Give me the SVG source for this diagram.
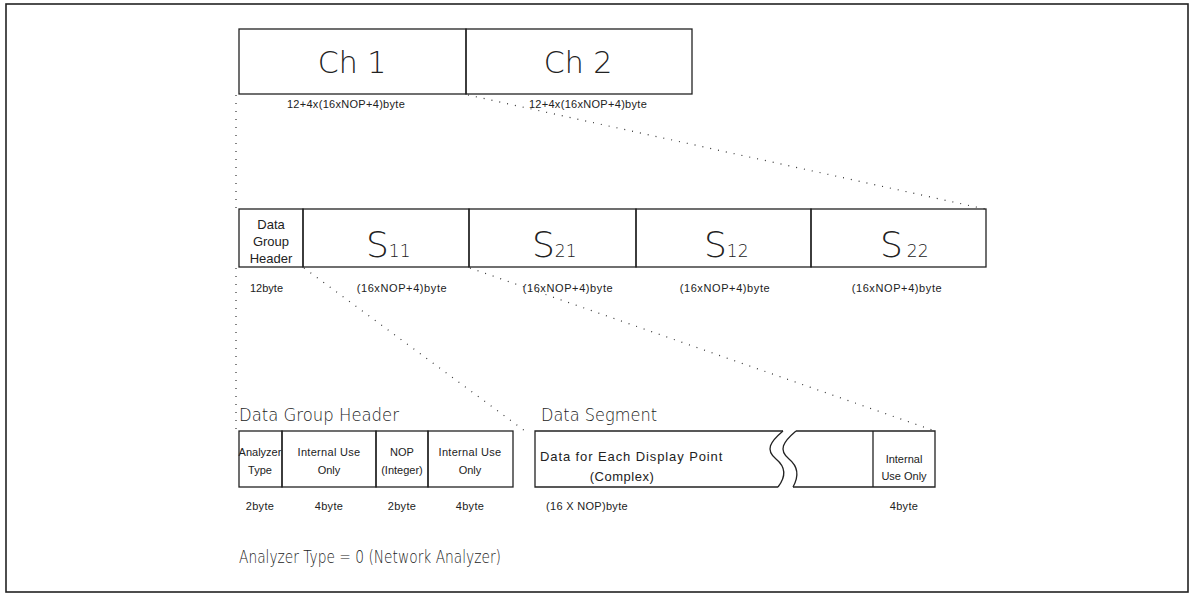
<svg xmlns="http://www.w3.org/2000/svg" width="1193" height="598" viewBox="0 0 1193 598">
<style>
.box{fill:none;stroke:#222;stroke-width:1.3}
.dot{fill:none;stroke:#333;stroke-width:1.2;stroke-dasharray:1 7}
.big{font-family:"DejaVu Sans","Liberation Sans",sans-serif;font-weight:200;fill:#222}
.sm{font-family:"Liberation Sans",Arial,sans-serif;fill:#222;font-size:11px}
.mid{font-family:"Liberation Sans",Arial,sans-serif;fill:#222;font-size:13px}
</style>
<rect x="0" y="0" width="1193" height="598" fill="#fff"/>
<rect id="frame" x="6" y="4" width="1182" height="588" fill="none" stroke="#222" stroke-width="1.6"/>

<g id="connectors">
<line class="dot" x1="236" y1="95" x2="236" y2="209"/>
<line class="dot" x1="236" y1="268" x2="236" y2="430"/>
<line class="dot" x1="468" y1="95" x2="985" y2="209"/>
<line class="dot" x1="304" y1="268" x2="525" y2="431"/>
<line class="dot" x1="470" y1="268" x2="935" y2="431"/>
</g>

<g id="ch1">
<rect class="box" x="239" y="29" width="227" height="65"/>
<text class="big" x="352" y="73" font-size="30" text-anchor="middle">Ch 1</text>
<text class="sm" x="346" y="108" text-anchor="middle" letter-spacing="0.3">12+4x(16xNOP+4)byte</text>
</g>
<g id="ch2">
<rect class="box" x="466" y="29" width="226" height="65"/>
<text class="big" x="578" y="73" font-size="30" text-anchor="middle">Ch 2</text>
<text class="sm" x="588" y="108" text-anchor="middle" letter-spacing="0.3">12+4x(16xNOP+4)byte</text>
</g>

<g id="dgh">
<rect class="box" x="239" y="209" width="64" height="58"/>
<text class="mid" x="271" y="229" text-anchor="middle">Data</text>
<text class="mid" x="271" y="246" text-anchor="middle">Group</text>
<text class="mid" x="271" y="263" text-anchor="middle">Header</text>
<text class="sm" x="250" y="292">12byte</text>
</g>
<g id="s11">
<rect class="box" x="303" y="209" width="166" height="58"/>
<text class="big" x="366" y="257" font-size="36">S<tspan font-size="17">11</tspan></text>
<text class="sm" x="402" y="292" text-anchor="middle" letter-spacing="0.6">(16xNOP+4)byte</text>
</g>
<g id="s21">
<rect class="box" x="469" y="209" width="167" height="58"/>
<text class="big" x="532" y="257" font-size="36">S<tspan font-size="17">21</tspan></text>
<text class="sm" x="568" y="292" text-anchor="middle" letter-spacing="0.6">(16xNOP+4)byte</text>
</g>
<g id="s12">
<rect class="box" x="636" y="209" width="175" height="58"/>
<text class="big" x="704" y="257" font-size="36">S<tspan font-size="17">12</tspan></text>
<text class="sm" x="725" y="292" text-anchor="middle" letter-spacing="0.6">(16xNOP+4)byte</text>
</g>
<g id="s22">
<rect class="box" x="811" y="209" width="175" height="58"/>
<text class="big" x="880" y="257" font-size="36">S<tspan font-size="17" dx="4">22</tspan></text>
<text class="sm" x="897" y="292" text-anchor="middle" letter-spacing="0.6">(16xNOP+4)byte</text>
</g>

<g id="header-detail">
<text class="big" x="239" y="421" font-size="18" textLength="160" lengthAdjust="spacingAndGlyphs">Data Group Header</text>
<rect class="box" x="239" y="431" width="43" height="56"/>
<rect class="box" x="282" y="431" width="94" height="56"/>
<rect class="box" x="376" y="431" width="52" height="56"/>
<rect class="box" x="428" y="431" width="85" height="56"/>
<text class="sm" font-size="9.5" x="260" y="456" text-anchor="middle">Analyzer</text>
<text class="sm" font-size="10" x="260" y="474" text-anchor="middle">Type</text>
<text class="sm" font-size="11" x="329" y="456" text-anchor="middle" letter-spacing="0.3">Internal Use</text>
<text class="sm" font-size="11" x="329" y="474" text-anchor="middle">Only</text>
<text class="sm" font-size="10.5" x="402" y="456" text-anchor="middle">NOP</text>
<text class="sm" font-size="10.5" x="402" y="474" text-anchor="middle">(Integer)</text>
<text class="sm" font-size="11" x="470" y="456" text-anchor="middle" letter-spacing="0.3">Internal Use</text>
<text class="sm" font-size="11" x="470" y="474" text-anchor="middle">Only</text>
<text class="sm" x="260" y="510" text-anchor="middle" letter-spacing="0.3">2byte</text>
<text class="sm" x="329" y="510" text-anchor="middle" letter-spacing="0.3">4byte</text>
<text class="sm" x="402" y="510" text-anchor="middle" letter-spacing="0.3">2byte</text>
<text class="sm" x="470" y="510" text-anchor="middle" letter-spacing="0.3">4byte</text>
</g>

<g id="data-segment">
<text class="big" x="541" y="421" font-size="18" textLength="116" lengthAdjust="spacingAndGlyphs">Data Segment</text>
<path class="box" d="M783,431 H535 V487 H778"/>
<path class="box" d="M796,431 H935 V487 H793"/>
<line class="box" x1="873" y1="431" x2="873" y2="487"/>
<path class="box" d="M783,431 C770,442 765,450 776,459 C787,468 785,478 778,487"/>
<path class="box" d="M796,431 C783,442 778,450 789,459 C800,468 798,478 793,487"/>
<text class="mid" x="540" y="461" font-size="14" letter-spacing="0.9">Data for Each Display Point</text>
<text class="mid" x="622" y="481" font-size="14" text-anchor="middle" letter-spacing="0.5">(Complex)</text>
<text class="sm" font-size="10.5" x="904" y="463" text-anchor="middle">Internal</text>
<text class="sm" font-size="10.5" x="904" y="480" text-anchor="middle">Use Only</text>
<text class="sm" x="587" y="510" text-anchor="middle" letter-spacing="0.3">(16 X NOP)byte</text>
<text class="sm" x="904" y="510" text-anchor="middle" letter-spacing="0.3">4byte</text>
</g>

<text id="note" class="big" x="239" y="563" font-size="17" textLength="262" lengthAdjust="spacingAndGlyphs">Analyzer Type = 0 (Network Analyzer)</text>
</svg>
